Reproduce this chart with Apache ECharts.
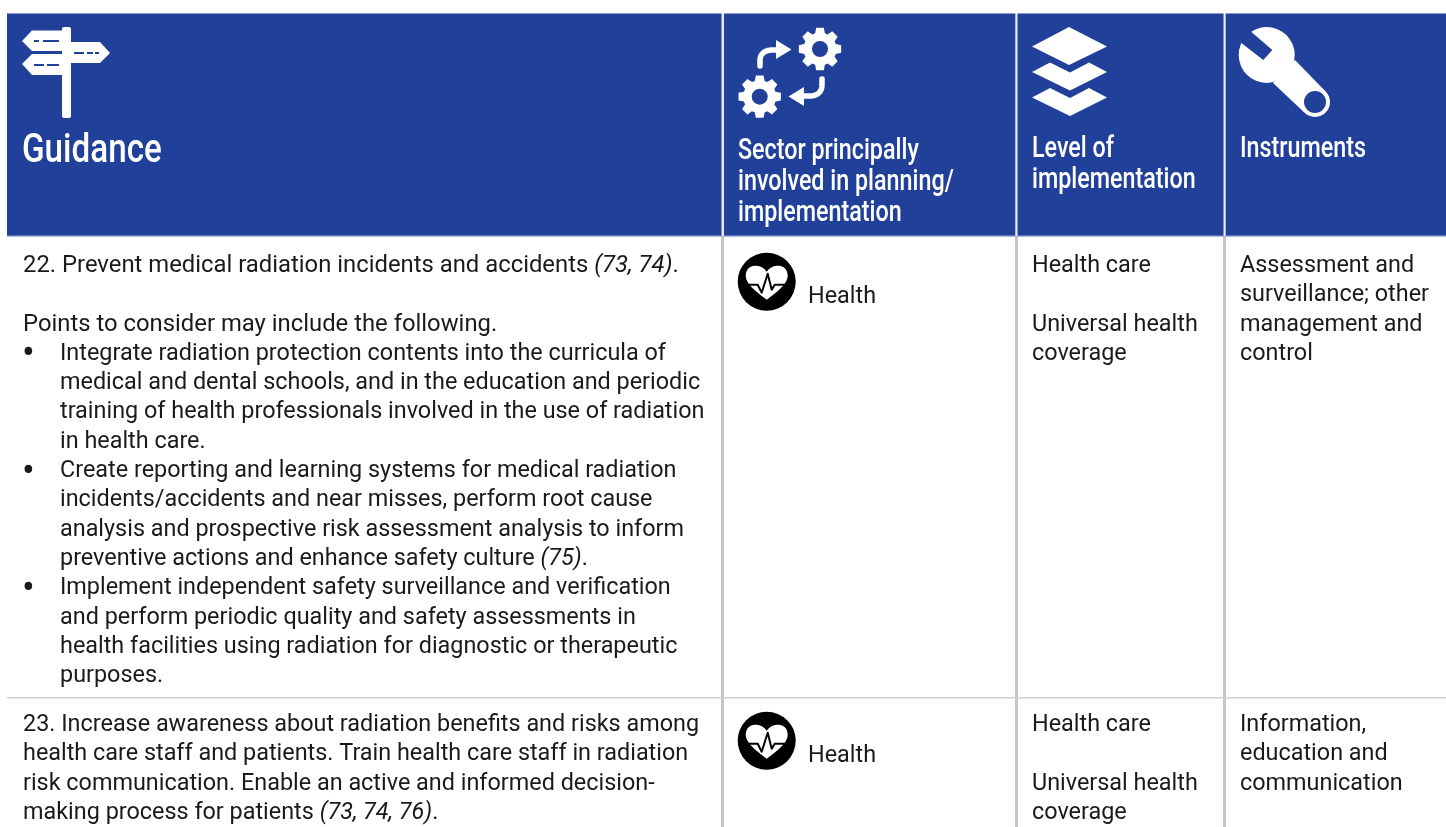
<!DOCTYPE html>
<html>
<head>
<meta charset="utf-8">
<style>
  html, body { margin: 0; padding: 0; background: #fff; }
  #main { width: 1446px; height: 827px; }
</style>
</head>
<body>
<div id="main"></div>
<script src="https://cdn.jsdelivr.net/npm/echarts@6/dist/echarts.min.js"></script>
<script>
// table content, {i|...} marks the italic bits
var guidanceHeader = ['Guidance'];
var sectorHeader = ['Sector principally', 'involved in planning/', 'implementation'];
var levelHeader = ['Level of', 'implementation'];
var instrumentsHeader = ['Instruments'];

var row1Guidance = [
    '22. Prevent medical radiation incidents and accidents {i|(73, 74)}.',
    '',
    'Points to consider may include the following.'
];
var row1Bullets = [
    ['Integrate radiation protection contents into the curricula of',
     'medical and dental schools, and in the education and periodic',
     'training of health professionals involved in the use of radiation',
     'in health care.'],
    ['Create reporting and learning systems for medical radiation',
     'incidents/accidents and near misses, perform root cause',
     'analysis and prospective risk assessment analysis to inform',
     'preventive actions and enhance safety culture {i|(75)}.'],
    ['Implement independent safety surveillance and verification',
     'and perform periodic quality and safety assessments in',
     'health facilities using radiation for diagnostic or therapeutic',
     'purposes.']
];
var row1Sector = 'Health';
var row1Level = ['Health care', '', 'Universal health', 'coverage'];
var row1Instruments = ['Assessment and', 'surveillance; other', 'management and', 'control'];

var row2Guidance = [
    '23. Increase awareness about radiation benefits and risks among',
    'health care staff and patients. Train health care staff in radiation',
    'risk communication. Enable an active and informed decision-',
    'making process for patients {i|(73, 74, 76)}.'
];
var row2Sector = 'Health';
var row2Level = ['Health care', '', 'Universal health', 'coverage'];
var row2Instruments = ['Information,', 'education and', 'communication'];

var BLUE = '#21409a';
var GREY = '#c6c6c6';
var BODY_FONT = '23.4px Roboto, sans-serif';
var BODY_ITALIC = 'italic 23.4px Roboto, sans-serif';
var HEAD_FONT = '500 29.5px Roboto, sans-serif';
var HEAD_SCALE = 0.79;
var LINE = 29.33;

var els = [];

function rect(x, y, w, h, fill) {
    els.push({ type: 'rect', shape: { x: x, y: y, width: w, height: h }, style: { fill: fill } });
}
function poly(points, fill) {
    els.push({ type: 'polygon', shape: { points: points }, style: { fill: fill } });
}
function circle(cx, cy, r, fill) {
    els.push({ type: 'circle', shape: { cx: cx, cy: cy, r: r }, style: { fill: fill } });
}
function stroke(points, color, width, cap) {
    els.push({ type: 'polyline', shape: { points: points }, style: { fill: null, stroke: color, lineWidth: width, lineCap: cap || 'butt', lineJoin: 'round' } });
}
// sample a cubic curve, graphic component has no svg path type
function cubic(p0, p1, p2, p3) {
    var out = [];
    for (var t = 0; t <= 1.001; t += 0.1) {
        var u = 1 - t;
        out.push([
            u * u * u * p0[0] + 3 * u * u * t * p1[0] + 3 * u * t * t * p2[0] + t * t * t * p3[0],
            u * u * u * p0[1] + 3 * u * u * t * p1[1] + 3 * u * t * t * p2[1] + t * t * t * p3[1]
        ]);
    }
    return out;
}
function text(str, x, y, font, fill, scaleX) {
    if (!str) return;
    els.push({
        type: 'text', x: x, y: y, scaleX: scaleX || 1,
        style: {
            text: str, fill: fill, font: font, align: 'left', verticalAlign: 'middle',
            rich: { i: { font: BODY_ITALIC, fill: fill } }
        }
    });
}
function bodyLines(lines, x, y, scaleX) {
    lines.forEach(function (l, i) { text(l, x, y + i * LINE, BODY_FONT, '#1a1a1a', scaleX); });
}
function headLines(lines, x, y, step) {
    lines.forEach(function (l, i) { text(l, x, y + i * step, HEAD_FONT, '#fff', HEAD_SCALE); });
}

// backgrounds and rules
rect(7, 13.5, 1439, 222, BLUE);
rect(7, 235, 1439, 1.5, '#5c76bd');
rect(721.5, 13, 2.5, 223, '#e8ebf5');
rect(1015.3, 13, 2.2, 223, '#e8ebf5');
rect(1223.5, 13, 2.2, 223, '#e8ebf5');
rect(721, 237, 3, 590, GREY);
rect(1015, 237, 3, 590, GREY);
rect(1223, 237, 3, 590, GREY);
rect(7, 697, 1439, 1.5, '#cfcfcf');

// signpost
els.push({ type: 'rect', shape: { x: 62, y: 27, width: 9, height: 91, r: 2 }, style: { fill: '#fff' } });
poly([[22, 41], [32, 30.5], [62, 30.5], [62, 51], [32, 51]], '#fff');
poly([[71, 42], [100, 42], [110, 53], [100, 63], [71, 63]], '#fff');
poly([[22, 64], [32, 54], [62, 54], [62, 75], [32, 75]], '#fff');
rect(34, 40, 5, 2, BLUE); rect(43, 40, 16, 2, BLUE);
rect(74, 52, 10, 2, BLUE); rect(87, 52, 6, 2, BLUE); rect(95, 52, 4, 2, BLUE);
rect(34, 64, 10, 2, BLUE); rect(47, 64, 7, 2, BLUE); rect(54, 64, 5, 2, BLUE);

// gears
function gear(cx, cy) {
    var teeth = 8, ro = 21.5, ri = 16.5, pts = [];
    for (var i = 0; i < teeth; i++) {
        var a = i / teeth * Math.PI * 2;
        var w = 0.24, w2 = 0.3;
        pts.push([cx + ri * Math.cos(a - w2), cy + ri * Math.sin(a - w2)]);
        pts.push([cx + ro * Math.cos(a - w * 0.75), cy + ro * Math.sin(a - w * 0.75)]);
        pts.push([cx + ro * Math.cos(a + w * 0.75), cy + ro * Math.sin(a + w * 0.75)]);
        pts.push([cx + ri * Math.cos(a + w2), cy + ri * Math.sin(a + w2)]);
    }
    poly(pts, '#fff');
    circle(cx, cy, 8, BLUE);
}
gear(820, 49);
gear(759.7, 96.7);

// arrows between the gears
stroke([[760, 66]].concat(cubic([760, 60], [760, 54], [765, 50], [772, 50])).concat([[780, 50]]), '#fff', 5.5, 'round');
poly([[776, 40], [791.5, 49.5], [776, 59]], '#fff');
stroke([[822, 79]].concat(cubic([822, 85], [822, 92], [817, 96], [810, 96])).concat([[800, 96]]), '#fff', 5.5, 'round');
poly([[804, 87], [788.5, 96.5], [804, 106]], '#fff');

// layers
poly([[1032, 46.5], [1069, 27], [1107, 46.5], [1069, 65]], '#fff');
poly([[1032, 72], [1050, 62.5], [1070, 72.5], [1089, 62.5], [1107, 72], [1070, 90.5]], '#fff');
poly([[1032, 97.5], [1050, 88], [1070, 98], [1089, 88], [1107, 97.5], [1070, 116]], '#fff');

// wrench
circle(1266.7, 55, 28, '#fff');
poly([[1295, 60], [1325.6, 91.4], [1304.4, 112.6], [1273, 83]], '#fff');
poly([[1251.7, 32.3], [1272.3, 50], [1263.3, 60], [1241.7, 43.3], [1232, 32], [1245, 20]], BLUE);
circle(1315, 102, 15, '#fff');
circle(1315, 102, 11, BLUE);

// health icon
function healthIcon(cx, cy) {
    circle(cx, cy, 29, '#000');
    var left = cubic([0, 18], [-8, 12], [-21, 3], [-21, -6]).concat(cubic([-21, -6], [-21, -18], [-6, -19], [0, -10]));
    var right = cubic([0, -10], [6, -19], [21, -18], [21, -6]).concat(cubic([21, -6], [21, 3], [8, 12], [0, 18]));
    poly(left.concat(right).map(function (p) { return [cx + p[0], cy + p[1]]; }), '#fff');
    var ecg = [[-23, 3], [-9, 3], [-5, 11], [1, -8], [5, 8], [8, 3], [23, 3]];
    stroke(ecg.map(function (p) { return [cx + p[0], cy + p[1]]; }), '#000', 2);
}
healthIcon(766.7, 281.7);
healthIcon(766.7, 740.7);

// header text
text(guidanceHeader[0], 22, 152, '500 41px Roboto, sans-serif', '#fff', 0.81);
headLines(sectorHeader, 738, 152, 31);
headLines(levelHeader, 1032, 150, 31);
headLines(instrumentsHeader, 1240, 150, 31);

// row 1
bodyLines(row1Guidance, 23, 266, 1.019);
var rowLine = 3;
row1Bullets.forEach(function (b) {
    text('•', 22, 268 + rowLine * LINE, '38px Roboto, sans-serif', '#1a1a1a');
    bodyLines(b, 60, 266 + rowLine * LINE);
    rowLine += b.length;
});
text(row1Sector, 808, 297, BODY_FONT, '#1a1a1a');
bodyLines(row1Level, 1032, 266);
bodyLines(row1Instruments, 1240, 266);

// row 2
bodyLines(row2Guidance, 23, 725);
text(row2Sector, 808, 756, BODY_FONT, '#1a1a1a');
bodyLines(row2Level, 1032, 725);
bodyLines(row2Instruments, 1240, 725);

var chart = echarts.init(document.getElementById('main'));
chart.setOption({ animation: false, graphic: { elements: els } });
</script>
</body>
</html>
